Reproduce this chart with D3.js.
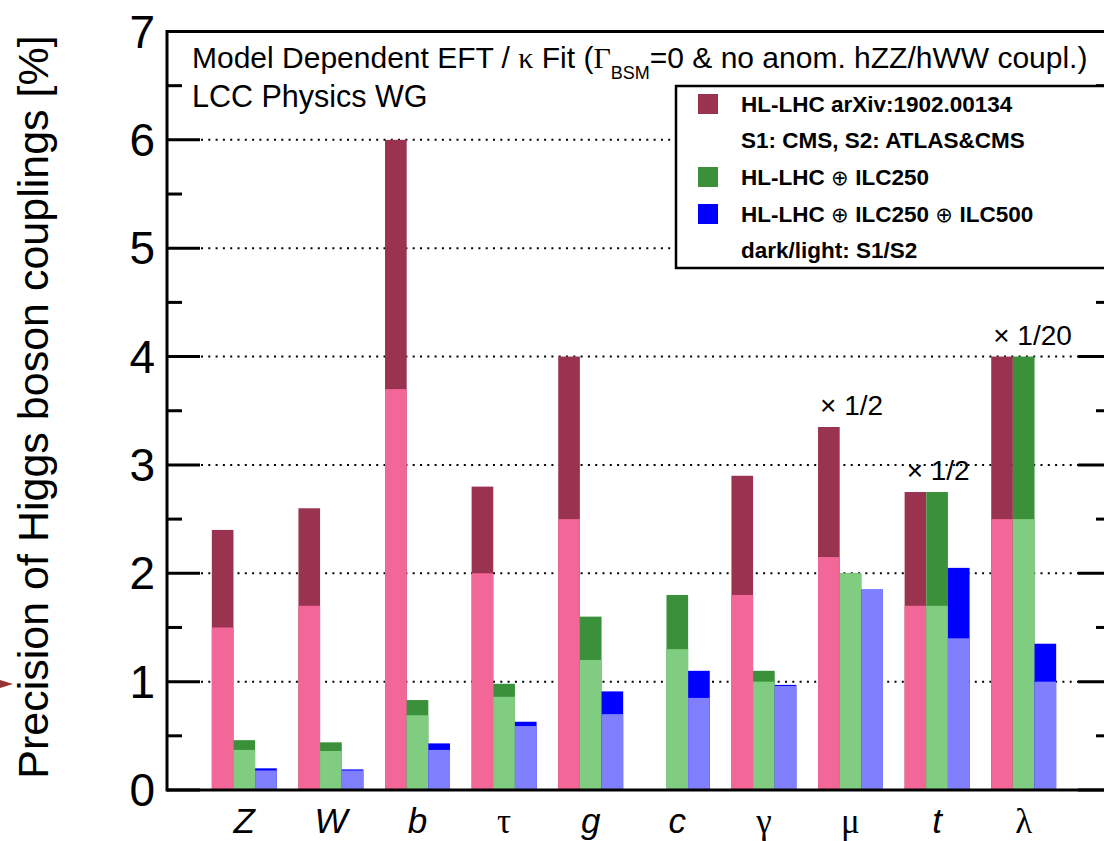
<!DOCTYPE html>
<html>
<head>
<meta charset="utf-8">
<script src="https://cdn.jsdelivr.net/npm/d3@7"></script>
<style>
  html, body { margin: 0; padding: 0; background: #fff; }
  svg { display: block; }
</style>
</head>
<body>
<svg id="chart" width="1104" height="841"></svg>
<script>
// ---------------- data ----------------
const categories = ["Z", "W", "b", "τ", "g", "c", "γ", "μ", "t", "λ"];
const italicCats = ["Z", "W", "b", "g", "c", "t"];
// HL-LHC (S1 dark / S2 light)
const hllhcS1 = [2.4, 2.6, 6.0, 2.8, 4.0, null, 2.9, 3.35, 2.75, 4.0];
const hllhcS2 = [1.5, 1.7, 3.7, 2.0, 2.5, null, 1.8, 2.15, 1.7, 2.5];
// HL-LHC + ILC250
const ilc250S1 = [0.46, 0.44, 0.83, 0.98, 1.6, 1.8, 1.1, 2.0, 2.75, 4.0];
const ilc250S2 = [0.37, 0.36, 0.69, 0.86, 1.2, 1.3, 1.0, 2.0, 1.7, 2.5];
// HL-LHC + ILC250 + ILC500
const ilc500S1 = [0.20, 0.19, 0.43, 0.63, 0.91, 1.1, 0.97, 1.85, 2.05, 1.35];
const ilc500S2 = [0.18, 0.18, 0.37, 0.59, 0.70, 0.85, 0.96, 1.85, 1.4, 1.0];
const scaleNotes = ["", "", "", "", "", "", "", "× 1/2", "× 1/2", "× 1/20"];
const yTicks = [0, 1, 2, 3, 4, 5, 6, 7];
const legendLines = [
  { text: "HL-LHC arXiv:1902.00134", color: "#993350" },
  { text: "S1: CMS, S2: ATLAS&CMS", color: null },
  { text: ["HL-LHC ", "⊕", "ILC250"], color: "#3a913a" },
  { text: ["HL-LHC ", "⊕", "ILC250 ", "⊕", "ILC500"], color: "#0000ff" },
  { text: "dark/light: S1/S2", color: null }
];

// ---------------- styles ----------------
const darkColors = ["#993350", "#3a913a", "#0000ff"];
const lightColors = ["#f26698", "#80cc80", "#8080ff"];
const SANS = "'Liberation Sans', Arial, Helvetica, sans-serif";
const SERIF = "'Liberation Serif', 'Times New Roman', serif";

const svg = d3.select("#chart");
const frame = { left: 167, right: 1111, top: 31.5, bottom: 790 };

const y = d3.scaleLinear().domain([0, 7]).range([frame.bottom, frame.top]);
const x = d3.scaleBand().domain(categories).range([201, 1067])
  .paddingInner(0.25).paddingOuter(0.125);
const xs = d3.scaleBand().domain(d3.range(3)).range([0, x.bandwidth()]);

// grid (dotted)
svg.append("g").selectAll("line").data(yTicks.filter(t => t > 0 && t < 7)).join("line")
  .attr("x1", 201).attr("x2", 1078)
  .attr("y1", d => y(d)).attr("y2", d => y(d))
  .attr("stroke", "#000").attr("stroke-width", 2)
  .attr("stroke-dasharray", "2,5.3");

// bars
const series = [
  { s1: hllhcS1, s2: hllhcS2 },
  { s1: ilc250S1, s2: ilc250S2 },
  { s1: ilc500S1, s2: ilc500S2 }
];
const barG = svg.append("g");
series.forEach((s, k) => {
  const rows = categories.map((c, i) => ({ c, a: s.s1[i], b: s.s2[i] })).filter(d => d.a != null);
  barG.append("g").selectAll("rect").data(rows).join("rect")
    .attr("x", d => x(d.c) + xs(k)).attr("width", xs.bandwidth())
    .attr("y", d => y(d.a)).attr("height", d => y(0) - y(d.a))
    .attr("fill", darkColors[k]);
  barG.append("g").selectAll("rect").data(rows).join("rect")
    .attr("x", d => x(d.c) + xs(k)).attr("width", xs.bandwidth())
    .attr("y", d => y(d.b)).attr("height", d => y(0) - y(d.b))
    .attr("fill", lightColors[k]);
});

// scale notes
svg.append("g").selectAll("text")
  .data(categories.map((c, i) => ({ c, t: scaleNotes[i], top: d3.max([hllhcS1[i], ilc250S1[i], ilc500S1[i]]) })).filter(d => d.t))
  .join("text")
  .attr("x", d => x(d.c) + 2).attr("y", d => y(d.top) - 12)
  .attr("font-family", SANS).attr("font-size", 28).attr("fill", "#000")
  .text(d => d.t);

// frame
const fr = svg.append("g").attr("fill", "none").attr("stroke", "#000").attr("stroke-width", 3);
fr.append("line").attr("x1", frame.left).attr("x2", frame.right + 2).attr("y1", frame.top).attr("y2", frame.top);
fr.append("line").attr("x1", frame.left).attr("x2", frame.right + 2).attr("y1", frame.bottom).attr("y2", frame.bottom);
fr.append("line").attr("x1", frame.left).attr("x2", frame.left).attr("y1", frame.top - 1.5).attr("y2", frame.bottom + 1.5);
fr.append("line").attr("x1", frame.right).attr("x2", frame.right).attr("y1", frame.top).attr("y2", frame.bottom);

// y ticks
const minor = d3.range(0.5, 7, 1);
const tk = svg.append("g").attr("stroke", "#000").attr("stroke-width", 3);
tk.selectAll(".maj").data(yTicks).join("line").attr("class", "maj")
  .attr("x1", frame.left).attr("x2", frame.left + 33).attr("y1", d => y(d)).attr("y2", d => y(d));
tk.selectAll(".min").data(minor).join("line").attr("class", "min")
  .attr("x1", frame.left).attr("x2", frame.left + 15).attr("y1", d => y(d)).attr("y2", d => y(d));
tk.selectAll(".majr").data(yTicks).join("line").attr("class", "majr")
  .attr("x1", frame.right - 33).attr("x2", frame.right).attr("y1", d => y(d)).attr("y2", d => y(d));
tk.selectAll(".minr").data(minor).join("line").attr("class", "minr")
  .attr("x1", frame.right - 15).attr("x2", frame.right).attr("y1", d => y(d)).attr("y2", d => y(d));

svg.append("g").selectAll("text").data(yTicks).join("text")
  .attr("x", 155).attr("y", d => y(d) + 16)
  .attr("text-anchor", "end").attr("font-family", SANS).attr("font-size", 46)
  .text(d => d);

// y label
svg.append("text")
  .attr("transform", "translate(48,407) rotate(-90)")
  .attr("text-anchor", "middle").attr("font-family", SANS).attr("font-size", 43)
  .text("Precision of Higgs boson couplings [%]");

// x labels
svg.append("g").selectAll("text").data(categories).join("text")
  .attr("x", d => x(d) + x.bandwidth() / 2).attr("y", 833)
  .attr("text-anchor", "middle")
  .attr("font-family", d => italicCats.includes(d) ? SANS : SERIF)
  .attr("font-style", d => italicCats.includes(d) ? "italic" : "normal")
  .attr("font-size", 35)
  .text(d => d);

// title
const title = svg.append("text").attr("x", 192).attr("y", 68)
  .attr("font-family", SANS).attr("font-size", 30);
title.append("tspan").text("Model Dependent EFT / ");
title.append("tspan").attr("font-family", SERIF).text("κ");
title.append("tspan").text(" Fit (");
title.append("tspan").attr("font-family", SERIF).text("Γ");
title.append("tspan").attr("font-size", 18).attr("dy", 11).text("BSM");
title.append("tspan").attr("dy", -11).text("=0 & no anom. hZZ/hWW coupl.)");

svg.append("text").attr("x", 192).attr("y", 107)
  .attr("font-family", SANS).attr("font-size", 30.5).text("LCC Physics WG");

// legend
const lg = svg.append("g");
lg.append("rect").attr("x", 676).attr("y", 86).attr("width", 460).attr("height", 182)
  .attr("fill", "#fff").attr("stroke", "#000").attr("stroke-width", 2.5);
const rowY = [104, 140, 177, 214, 250];
legendLines.forEach((l, i) => {
  if (l.color) {
    lg.append("rect").attr("x", 698).attr("y", rowY[i] - 10).attr("width", 20).attr("height", 20)
      .attr("fill", l.color);
  }
  const t = lg.append("text").attr("x", 741).attr("y", rowY[i] + 8)
    .attr("font-family", SANS).attr("font-weight", "bold").attr("font-size", 22.5);
  const parts = Array.isArray(l.text) ? l.text : [l.text];
  parts.forEach(p => {
    if (p === "⊕") {
      t.append("tspan").attr("font-family", "'DejaVu Sans', sans-serif").attr("font-weight", "normal")
        .attr("font-size", 21).text("⊕ ");
    } else {
      t.append("tspan").text(p);
    }
  });
});

// small red arrow at left edge (artifact in original)
svg.append("path").attr("d", "M0,680 L13,684 L0,688 Z").attr("fill", "#993333");
</script>
</body>
</html>
